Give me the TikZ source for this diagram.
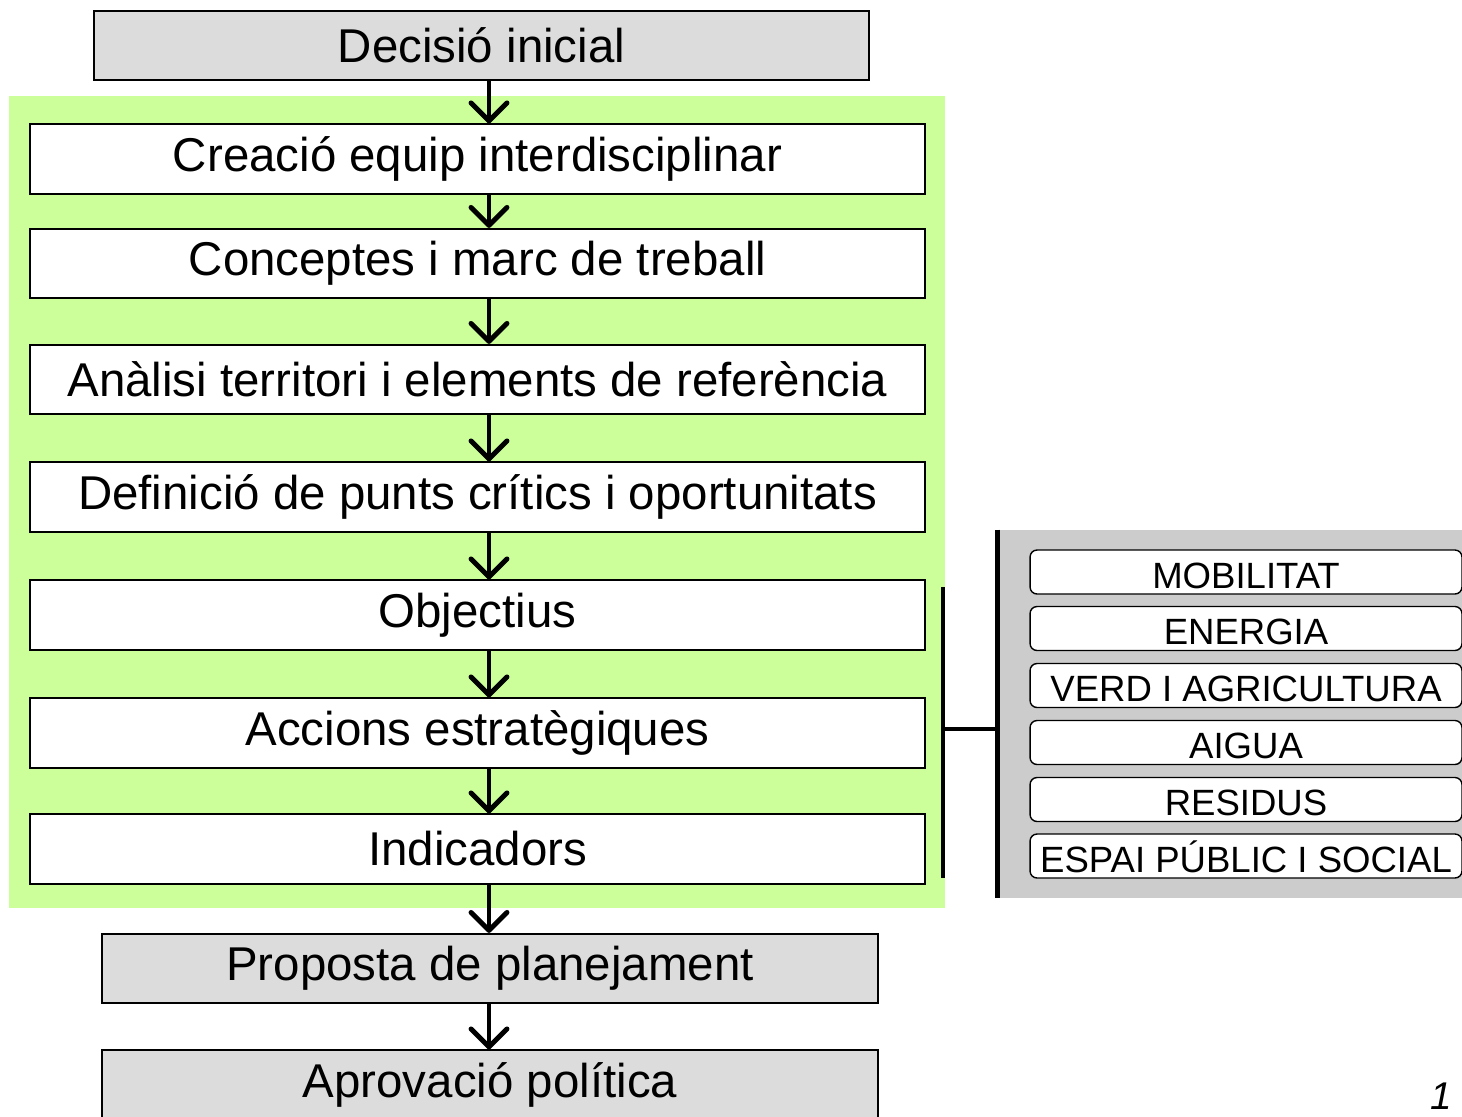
\documentclass[tikz,border=0pt]{standalone}
\usepackage{fontspec}
\setmainfont{Liberation Sans}
\usetikzlibrary{arrows.meta}
\definecolor{lightgreen}{HTML}{CCFF99}
\definecolor{boxgray}{HTML}{DCDCDC}
\definecolor{panelgray}{HTML}{CCCCCC}

\begin{document}
\begin{tikzpicture}[x=0.02cm, y=-0.02cm,
  stepbox/.style={draw, line width=1pt, fill=white, minimum width=17.9cm, minimum height=1.39cm, inner sep=0pt, font=\fontsize{27}{30}\selectfont},
  graybox/.style={stepbox, fill=boxgray, minimum width=15.5cm},
  themebox/.style={draw, line width=0.8pt, fill=white, rounded corners=4pt, minimum width=8.64cm, minimum height=0.88cm, inner sep=0pt, text height=18.3pt, text depth=0pt, font=\fontsize{20.8}{23}\selectfont},
  flow/.style={line width=2.8pt, line join=round, -{Straight Barb[length=3.6mm,width=7.2mm,round]}}]
\useasboundingbox (0,0) rectangle (1462,1116);

\fill[lightgreen] (9,96) rectangle (945,908);

\node[graybox] at (481.5,45.5) (dec) {Decisi\'o inicial};
\node[stepbox] at (477.5,159) (s1) {Creaci\'o equip interdisciplinar};
\node[stepbox] at (477.5,263.5) (s2) {Conceptes i marc de treball};
\node[stepbox] at (477.5,379.5) (s3) {An\`alisi territori i elements de refer\`encia};
\node[stepbox] at (477.5,497) (s4) {Definici\'o de punts cr\'itics i oportunitats};
\node[stepbox] at (477.5,615) (s5) {Objectius};
\node[stepbox] at (477.5,733) (s6) {Accions estrat\`egiques};
\node[stepbox] at (477.5,849) (s7) {Indicadors};
\node[graybox, minimum width=15.52cm] at (490,968.5) (prop) {Proposta de planejament};
\node[graybox, minimum width=15.52cm] at (490,1085) (apro) {Aprovaci\'o pol\'itica};

\coordinate (ax) at (489,0);
\foreach \a/\b in {dec/s1, s1/s2, s2/s3, s3/s4, s4/s5, s5/s6, s6/s7, s7/prop, prop/apro}
  \draw[flow] (\a.south -| ax) -- (\b.north -| ax);

\node[fill=panelgray, minimum width=9.28cm, minimum height=7.36cm, inner sep=0pt] at (1230,714) (panel) {};
\draw[line width=3pt] (panel.north west) -- (panel.south west);

\node[themebox] at (1246,572) (t1) {MOBILITAT};
\node[themebox] at (1246,628.5) (t2) {ENERGIA};
\node[themebox] at (1246,685.5) (t3) {VERD I AGRICULTURA};
\node[themebox] at (1246,742.5) (t4) {AIGUA};
\node[themebox] at (1246,799.5) (t5) {RESIDUS};
\node[themebox] at (1246,856) (t6) {ESPAI P\'UBLIC I SOCIAL};

\coordinate (brtop) at (943,587);
\coordinate (brbot) at (943,878);
\coordinate (brmid) at (943,729);
\draw[line width=2.3pt] (brtop) -- (brbot);
\draw[line width=2.3pt] (brmid) -- (brmid -| panel.west);

\node[anchor=base west, inner sep=0pt, font=\fontsize{22}{24}\selectfont\itshape] at (1430,1109) (pg) {1};
\end{tikzpicture}
\end{document}
